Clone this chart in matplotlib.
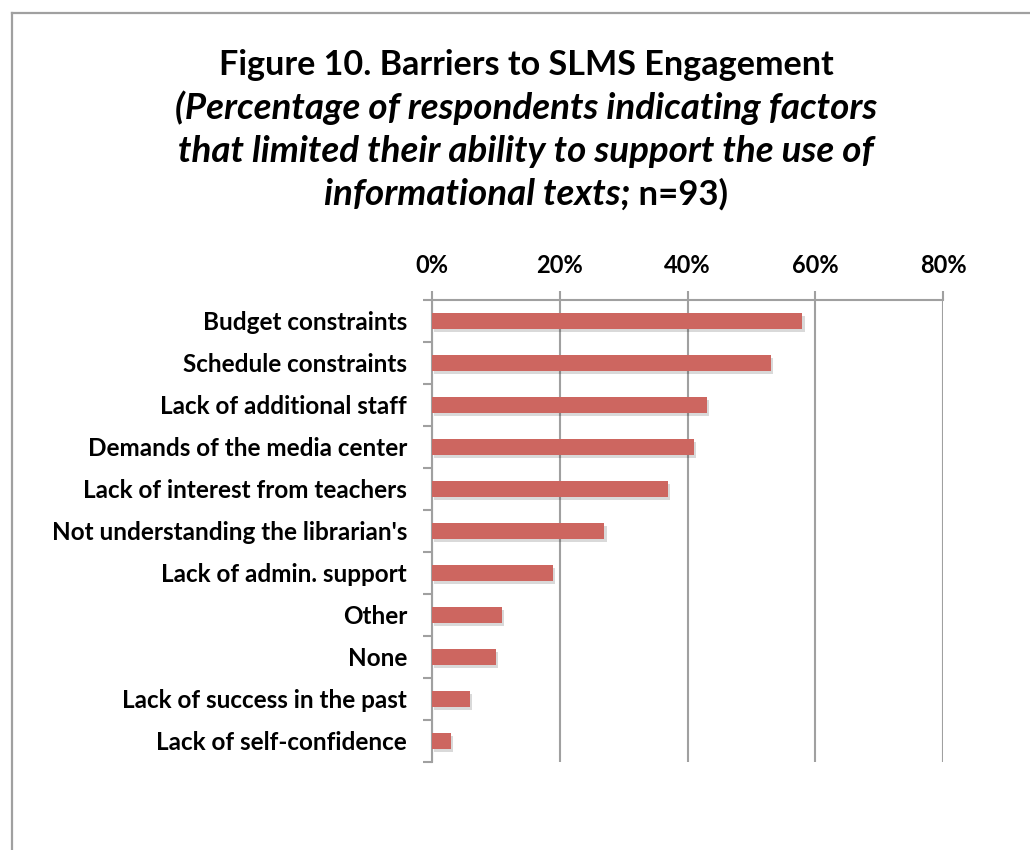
import numpy as np
import matplotlib.pyplot as plt
import matplotlib.patheffects as pe
from matplotlib.lines import Line2D
from matplotlib.ticker import FixedLocator

plt.rcParams['font.family'] = ['Lato', 'DejaVu Sans']

# 数据：各项障碍的百分比
categories = ['Budget constraints', 'Schedule constraints', 'Lack of additional staff',
              'Demands of the media center', 'Lack of interest from teachers',
              "Not understanding the librarian's", 'Lack of admin. support', 'Other',
              'None', 'Lack of success in the past', 'Lack of self-confidence']
values = [58, 53, 43, 41, 37, 27, 19, 11, 10, 6, 3]
xtick_vals = [0, 20, 40, 60, 80]
xtick_labels = ['0%', '20%', '40%', '60%', '80%']

bar_color = '#CD6660'
grey = '#A0A0A0'

fig = plt.figure(figsize=(10.3, 8.5), dpi=100)
ax = fig.add_axes([432 / 1030, 1 - 762 / 850, (943 - 432) / 1030, (762 - 300) / 850])

y = np.arange(len(categories))
bars = ax.barh(y, values, height=0.38, color=bar_color, zorder=3)
# 轻微阴影
for b in bars:
    b.set_path_effects([pe.SimplePatchShadow(offset=(1.5, -2), shadow_rgbFace='k', alpha=0.15),
                        pe.Normal()])
ax.set_ylim(len(categories) - 0.5, -0.5)
ax.set_xlim(0, 80)

# x轴在上方
ax.xaxis.tick_top()
ax.set_xticks(xtick_vals)
ax.set_xticklabels(xtick_labels, fontsize=17, fontweight='bold')
ax.tick_params(axis='x', direction='out', length=6.5, width=1.5, color=grey, pad=10)

ax.set_yticks(y)
ax.set_yticklabels(categories, fontsize=17.5, fontweight='bold')
ax.tick_params(axis='y', which='major', length=0, pad=18)
ax.yaxis.set_minor_locator(FixedLocator(np.arange(len(categories) + 1) - 0.5))
ax.tick_params(axis='y', which='minor', direction='out', length=6.5, width=1.5, color=grey)

ax.grid(axis='x', color=grey, linewidth=1.5, zorder=0)
for s in ['right', 'bottom']:
    ax.spines[s].set_visible(False)
for s in ['top', 'left']:
    ax.spines[s].set_color(grey)
    ax.spines[s].set_linewidth(1.5)

# 标题
cx = 526 / 1030
fig.text(cx, 1 - 65 / 850, 'Figure 10. Barriers to SLMS Engagement', ha='center', va='center',
         fontsize=24.6, fontweight='bold')
fig.text(cx, 1 - 108 / 850, '(Percentage of respondents indicating factors', ha='center', va='center',
         fontsize=26.5, fontweight='bold', style='italic')
fig.text(cx, 1 - 152 / 850, 'that limited their ability to support the use of', ha='center', va='center',
         fontsize=26.5, fontweight='bold', style='italic')
t1 = fig.text(cx, 1 - 195 / 850, 'informational texts;', ha='left', va='baseline',
              fontsize=26.5, fontweight='bold', style='italic')
t2 = fig.text(cx, 1 - 195 / 850, ' n=93)', ha='left', va='baseline',
              fontsize=25, fontweight='bold')

fig.canvas.draw()
r = fig.canvas.get_renderer()
w1 = t1.get_window_extent(r).width / 1030
w2 = t2.get_window_extent(r).width / 1030
yb = 1 - 205 / 850
t1.set_position((cx - (w1 + w2) / 2, yb))
t2.set_position((cx - (w1 + w2) / 2 + w1, yb))

# 外框
fig.add_artist(Line2D([11.5 / 1030, 1.01], [1 - 12.5 / 850] * 2, color=grey, lw=1.6))
fig.add_artist(Line2D([11.5 / 1030] * 2, [-0.01, 1 - 12.5 / 850], color=grey, lw=1.6))

fig.savefig('out.png', dpi=100)
